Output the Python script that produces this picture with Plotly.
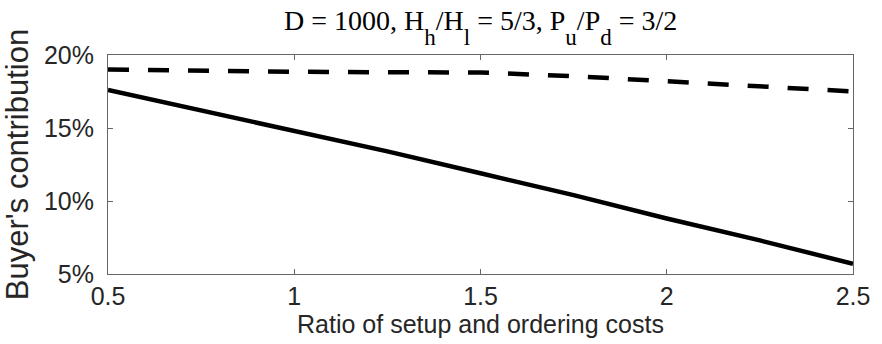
import plotly.graph_objects as go

x_vals = [0.5, 0.75, 1.0, 1.25, 1.5, 1.75, 2.0, 2.25, 2.5]
solid_vals = [17.6, 16.2, 14.8, 13.4, 11.9, 10.4, 8.8, 7.3, 5.7]
dashed_vals = [19.0, 18.9, 18.85, 18.82, 18.8, 18.55, 18.2, 17.9, 17.5]
x_ticks = [0.5, 1, 1.5, 2, 2.5]
x_tick_text = ["0.5", "1", "1.5", "2", "2.5"]
y_ticks = [5, 10, 15, 20]
y_tick_text = ["5%", "10%", "15%", "20%"]

fig = go.Figure()
fig.add_trace(go.Scatter(x=x_vals, y=dashed_vals, mode="lines",
                         line=dict(color="black", width=4.5, dash="21px,19px")))
fig.add_trace(go.Scatter(x=x_vals, y=solid_vals, mode="lines",
                         line=dict(color="black", width=4.5)))

axis_common = dict(showline=True, linecolor="#666666", linewidth=1, mirror="ticks",
                   ticks="inside", ticklen=5, tickcolor="#666666", showgrid=False,
                   zeroline=False, tickfont=dict(family="Liberation Sans", size=25, color="#262626"))


def sub(s):
    return '<span style="font-size:23px;baseline-shift:-15px">' + s + '</span>'


title_text = ("D = 1000, H" + sub("h") + "/H" + sub("l") + " = 5/3, P" + sub("u")
              + "/P" + sub("d") + " = 3/2")

fig.update_layout(
    width=882, height=344,
    margin=dict(l=108, r=20, t=55, b=70),
    plot_bgcolor="white", paper_bgcolor="white",
    showlegend=False,
    title=dict(text=title_text,
               x=0.545, xanchor="center", y=0.97, yanchor="top",
               font=dict(family="Liberation Serif", size=28, color="black")),
    xaxis=dict(range=[0.5, 2.5], tickvals=x_ticks, ticktext=x_tick_text,
               title=dict(text="Ratio of setup and ordering costs", standoff=0,
                          font=dict(family="Liberation Sans", size=25, color="#262626")),
               **axis_common),
    yaxis=dict(range=[5, 20], tickvals=y_ticks, ticktext=y_tick_text,
               ticklabelstandoff=8,
               title=dict(text="Buyer's contribution", standoff=6,
                          font=dict(family="Liberation Sans", size=31, color="#262626")),
               **axis_common),
)
fig.write_html("out.html")
